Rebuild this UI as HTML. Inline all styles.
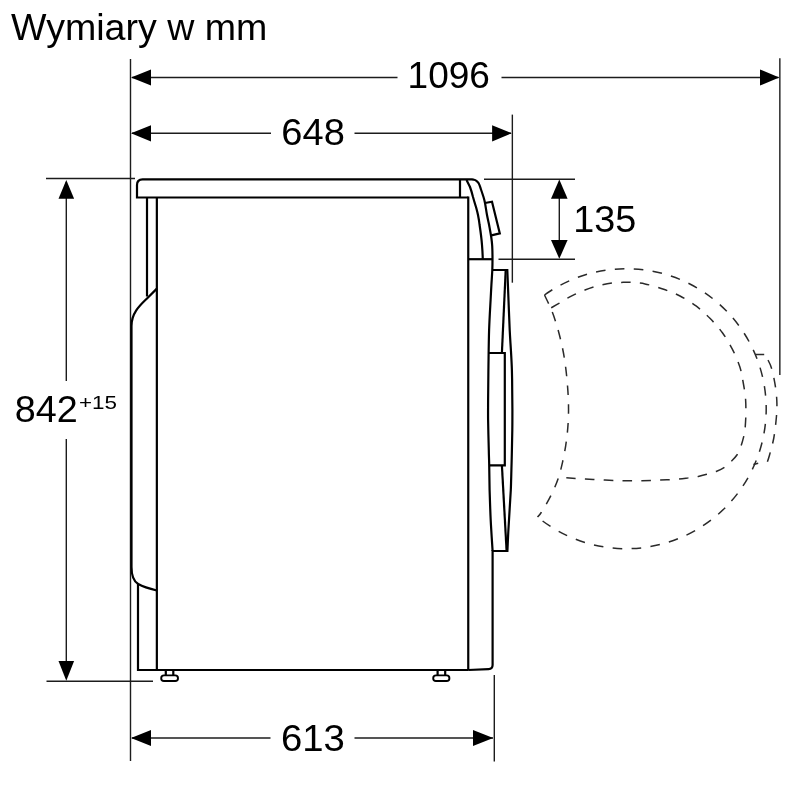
<!DOCTYPE html>
<html lang="pl">
<head>
<meta charset="utf-8">
<title>Wymiary w mm</title>
<style>
  html, body { margin: 0; padding: 0; background: #ffffff; }
  body { width: 800px; height: 800px; overflow: hidden; }
  svg { display: block; }
  text { font-family: "Liberation Sans", Arial, Helvetica, sans-serif; fill: #000; }
  .o { fill: none; stroke: #000; stroke-width: 2.2; stroke-linecap: butt; stroke-linejoin: miter; }
  .t { fill: none; stroke: #1c1c1c; stroke-width: 1.4; }
  .d { fill: none; stroke: #2a2a2a; stroke-width: 1.5; stroke-dasharray: 9.6 9.3; }
  .a { fill: #000; stroke: none; }
</style>
</head>
<body>
<svg width="800" height="800" viewBox="0 0 800 800">
  <defs><filter id="noop" x="0" y="0" width="800" height="800" filterUnits="userSpaceOnUse"><feOffset dx="0" dy="0"/></filter></defs>
  <rect x="0" y="0" width="800" height="800" fill="#ffffff"/>

  <!-- ===== dimension / extension lines (thin) ===== -->
  <g class="t">
    <line x1="130.5" y1="59" x2="130.5" y2="761"/>
    <line x1="779.85" y1="58.2" x2="779.85" y2="375"/>
    <line x1="512.35" y1="114.6" x2="512.35" y2="282.7"/>
    <line x1="494.3" y1="675" x2="494.3" y2="761.5"/>

    <line x1="132" y1="77.5" x2="397.5" y2="77.5"/>
    <line x1="501.5" y1="77.5" x2="778.5" y2="77.5"/>

    <line x1="132" y1="133.3" x2="271" y2="133.3"/>
    <line x1="354.5" y1="133.3" x2="511" y2="133.3"/>

    <line x1="132" y1="738" x2="270.5" y2="738"/>
    <line x1="354.5" y1="738" x2="493" y2="738"/>

    <line x1="66.3" y1="182" x2="66.3" y2="381"/>
    <line x1="66.3" y1="439" x2="66.3" y2="678"/>
    <line x1="46" y1="178.5" x2="135" y2="178.5"/>
    <line x1="46.5" y1="681.2" x2="153" y2="681.2"/>

    <line x1="484" y1="179.3" x2="575" y2="179.3"/>
    <line x1="498.5" y1="259.2" x2="575" y2="259.2"/>
    <line x1="559.3" y1="182" x2="559.3" y2="256"/>
  </g>

  <!-- ===== arrow heads ===== -->
  <g class="a">
    <polygon points="131,77.5 151,69.4 151,85.6"/>
    <polygon points="779.3,77.5 760,69.4 760,85.6"/>
    <polygon points="131,133.3 151,125.2 151,141.4"/>
    <polygon points="511.7,133.3 492.1,125.2 492.1,141.4"/>
    <polygon points="131,738 151,729.9 151,746.1"/>
    <polygon points="493.2,738 473,729.9 473,746.1"/>
    <polygon points="66.3,180 58.5,198.8 74.1,198.8"/>
    <polygon points="66.3,680.7 58.5,661 74.1,661"/>
    <polygon points="559.3,179.5 551,198.8 567.6,198.8"/>
    <polygon points="559.3,258.8 551,240 567.6,240"/>
  </g>

  <!-- ===== appliance outline (thick) ===== -->
  <g class="o">
    <!-- top plate + front top arc (outer) continuing into door left edge -->
    <path d="M468.25,197.5 L137,197.5 L137,185 Q137,179.4 142.6,179.4 L466,179.4 C466.9,179.4 470.3,179.3 471.7,179.4 C473.1,179.5 473.4,179.5 474.2,179.8 C475.0,180.0 475.7,180.4 476.4,180.9 C477.1,181.4 477.7,182.0 478.2,182.7 C478.7,183.4 478.9,183.8 479.4,184.9 C479.9,186.0 480.3,187.5 481.0,189.5 C481.7,191.5 482.8,194.8 483.5,197.0 C484.2,199.2 484.4,200.0 485.0,203.0 C485.6,206.0 486.3,211.3 487.0,215.0 C487.7,218.7 488.6,222.5 489.1,225.0 C489.6,227.5 489.6,227.9 490.0,230.0 C490.4,232.1 490.9,234.8 491.3,237.5 C491.7,240.2 492.0,242.4 492.2,246.0 C492.4,249.6 492.5,255.0 492.5,259.0 C492.5,263.0 492.5,265.7 492.3,270.0 C492.1,274.3 491.7,280.0 491.4,285.0 C491.1,290.0 491.0,292.5 490.6,300.0 C490.2,307.5 489.5,318.3 489.1,330.0 C488.7,341.7 488.6,358.3 488.4,370.0 C488.2,381.7 488.2,391.7 488.1,400.0 C488.1,408.3 488.0,411.7 488.1,420.0 C488.2,428.3 488.6,442.5 488.8,450.0 C488.9,457.5 489.1,458.3 489.2,465.0 C489.3,471.7 489.4,480.8 489.6,490.0 C489.9,499.2 490.2,509.8 490.7,520.0 C491.2,530.2 492.3,545.8 492.6,551.0"/>
    <!-- stub in plate -->
    <line x1="460" y1="179.4" x2="460" y2="197.5"/>
    <!-- inner arc -->
    <path d="M466.5,180 C468,183 469.2,185 470,187 C471.3,190.5 472.3,194 473,197
             C474,200.5 475,204 476,207 C476.8,210 477.5,212.5 478,215
             C478.8,219 479.3,222 479.6,225 C480.5,231 481.5,238 482,245
             C482.4,250 482.7,255 482.75,259.2"/>
    <!-- button -->
    <path d="M485,203 L492,201.7 L499.8,233.4 L491.4,235.4"/>
    <!-- front panel inner vertical -->
    <line x1="468.25" y1="196.5" x2="468.25" y2="670"/>
    <line x1="468.25" y1="259.2" x2="492.5" y2="259.2"/>

    <!-- back panel -->
    <line x1="147" y1="197.5" x2="147" y2="296.5"/>
    <line x1="156.85" y1="197.5" x2="156.85" y2="670"/>
    <path d="M156.85,288.6 L148,297.5 C141,304.5 131.5,312 131.5,326 L131.5,567
             C131.5,576 133.5,581.3 138.2,584 C144,587.2 150,588.8 156.85,590.5"/>
    <path d="M138,583.8 L138,670 L468.5,670"/>

    <!-- feet -->
    <path d="M165.8,670 L165.8,675.4 M173.3,670 L173.3,675.4"/>
    <rect x="161.2" y="675.4" width="16.8" height="5.6" rx="2.8" ry="2.8" stroke-width="1.9"/>
    <path d="M437.6,670 L437.6,675.4 M445.2,670 L445.2,675.4"/>
    <rect x="433.2" y="675.4" width="16.2" height="5.6" rx="2.8" ry="2.8" stroke-width="1.9"/>

    <!-- door -->
    <path d="M492.3,270 L507.3,270 C507.5,275.0 508.1,290.0 508.5,300.0 C508.9,310.0 509.3,321.7 509.7,330.0 C510.1,338.3 510.5,343.3 510.9,350.0 C511.3,356.7 511.7,363.3 511.9,370.0 C512.1,376.7 512.2,383.3 512.2,390.0 C512.3,396.7 512.3,403.3 512.4,410.0 C512.4,416.7 512.4,423.3 512.3,430.0 C512.2,436.7 512.0,443.3 511.9,450.0 C511.8,456.7 511.6,463.3 511.4,470.0 C511.2,476.7 511.1,483.3 510.8,490.0 C510.4,496.7 510.0,503.3 509.6,510.0 C509.2,516.7 508.8,523.2 508.4,530.0 C508.0,536.8 507.6,547.5 507.4,551.0 L492.6,551"/>
    <path d="M505.7,270 L501.9,353"/>
    <path d="M488.7,353 L504.8,353 L504.8,465.3 L489.2,465.3"/>
    <path d="M501.9,465.3 L506.6,551"/>

    <!-- lower front -->
    <path d="M492.6,550 L492.6,665 Q492.6,668.9 488.6,669.1 L468.25,670"/>
  </g>

  <!-- ===== dashed open door ===== -->
  <g class="d" id="dash">
    <path d="M544.5,295 A140,140 0 1 1 537.5,517" stroke-dasharray="9.6 9.35"/>
    <path d="M544.5,295.0 C545.8,297.8 550.0,306.1 552.2,311.9 C554.5,317.7 556.4,324.0 558.1,330.0 C559.8,336.0 561.2,342.0 562.5,348.1 C563.8,354.2 564.8,360.6 565.6,366.9 C566.4,373.1 567.0,379.3 567.5,385.6 C568.0,391.9 568.4,398.4 568.5,404.8 C568.6,411.1 568.5,417.2 568.1,423.5 C567.7,429.8 567.1,436.0 566.2,442.2 C565.4,448.5 564.1,454.9 562.8,461.0 C561.4,467.1 560.1,472.9 558.1,478.8 C556.1,484.6 553.4,490.6 550.6,496.2 C547.8,501.9 543.4,509.0 541.2,512.5 C539.1,516.0 538.1,516.2 537.5,517.0" stroke-dasharray="9.6 9.19"/>
    <path d="M551.2,307.8 C552.6,307.0 556.7,304.7 559.4,303.1 C562.1,301.5 564.8,299.6 567.5,298.1 C570.2,296.6 572.7,295.4 575.6,294.0 C578.5,292.6 582.0,291.2 585.0,290.0 C588.0,288.8 590.8,287.8 593.8,286.9 C596.7,286.0 599.5,285.4 602.5,284.8 C605.5,284.1 608.8,283.5 611.9,283.1 C615.0,282.7 618.2,282.5 621.2,282.4 C624.3,282.3 626.0,282.1 630.0,282.3 C634.0,282.6 639.5,282.8 645.0,283.9 C650.5,285.0 656.9,287.0 662.8,289.0 C668.6,291.0 674.4,293.1 680.0,296.0 C685.6,298.9 691.4,302.5 696.4,306.2 C701.4,310.0 705.8,314.1 710.2,318.6 C714.6,323.1 718.9,327.9 722.6,333.0 C726.3,338.1 729.3,343.3 732.2,348.9 C735.1,354.5 737.9,361.2 739.8,366.8 C741.6,372.3 742.1,376.5 743.1,382.0 C744.1,387.5 745.2,393.7 745.6,399.5 C746.0,405.3 745.9,411.8 745.8,417.0 C745.6,422.2 745.2,427.7 744.9,431.0 C744.6,434.3 744.3,434.2 743.7,436.6 C743.1,439.1 742.2,442.6 741.1,445.7 C740.0,448.8 738.6,452.4 736.9,455.0 C735.2,457.6 733.2,459.4 731.1,461.5 C729.0,463.6 726.9,465.7 724.5,467.3 C722.1,468.9 719.5,470.1 716.7,471.2 C713.9,472.3 710.6,473.2 707.5,474.1 C704.4,475.0 701.4,475.9 698.3,476.5 C695.2,477.1 692.4,477.4 689.1,477.8 C685.8,478.2 683.4,478.7 678.6,479.1 C673.8,479.5 666.3,479.8 660.2,480.1 C654.1,480.4 648.0,480.6 641.9,480.7 C635.8,480.8 629.6,480.8 623.5,480.7 C617.4,480.6 611.4,480.4 605.0,480.1 C598.6,479.8 591.9,479.4 585.4,479.0 C578.9,478.6 569.5,478.0 566.3,477.8" stroke-dasharray="9.6 9.24"/>
    <path d="M763.8,354.4 C764.6,355.5 767.1,358.4 768.5,361.0 C769.9,363.6 770.8,365.4 772.0,369.8 C773.2,374.1 774.7,381.7 775.5,387.2 C776.3,392.8 776.8,398.0 776.9,403.0 C777.0,408.0 776.9,411.2 776.4,417.0 C775.9,422.8 774.9,431.6 773.8,438.0 C772.6,444.4 770.5,451.4 769.4,455.5 C768.3,459.6 767.5,461.3 767.1,462.5" stroke-dasharray="9.6 9.23" stroke-dashoffset="11.8"/>
    <path d="M755.4,354.4 L764.2,354.4 M753.4,464.4 L758.2,463.3" stroke-dasharray="none"/>
  </g>

  <!-- ===== text ===== -->
  <g id="txt" filter="url(#noop)">
  <text id="ttl" x="11" y="40" font-size="37" textLength="256.4" lengthAdjust="spacingAndGlyphs">Wymiary w mm</text>
  <text id="t1096" x="407.6" y="88.3" font-size="37">1096</text>
  <text id="t648" x="281.3" y="144.6" font-size="37" textLength="63.5" lengthAdjust="spacingAndGlyphs">648</text>
  <text id="t135" x="573.2" y="231.5" font-size="37" textLength="63" lengthAdjust="spacingAndGlyphs">135</text>
  <text id="t842" x="14.8" y="422.1" font-size="37" textLength="63" lengthAdjust="spacingAndGlyphs">842</text>
  <text id="t15" x="79" y="408.8" font-size="18.5" textLength="38" lengthAdjust="spacingAndGlyphs">+15</text>
  <text id="t613" x="280.9" y="750.8" font-size="37" textLength="63.9" lengthAdjust="spacingAndGlyphs">613</text>
  </g>
</svg>
</body>
</html>
